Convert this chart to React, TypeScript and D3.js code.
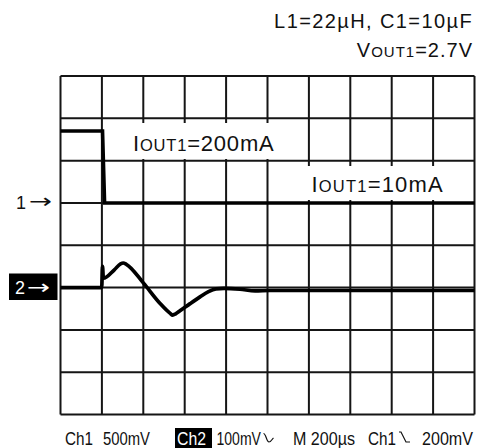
import React from "react";
import * as d3 from "d3";

// Scope settings
const TIME_PER_DIV_US = 200;
const H_DIVS = 10;
const V_DIVS = 8;
const CH1_MV_PER_DIV = 500;
const CH2_MV_PER_DIV = 100;
const CH1_GROUND_DIV = 5;
const CH2_GROUND_DIV = 3;

// Ch1: load current step (mV on the current-sense channel)
const ch1TimeUs = [0, 203, 213, 2000];
const ch1Mv = [850, 850, 0, 0];

// Ch2: output voltage transient (AC coupled, mV)
const ch2TimeUs = [0, 199, 203, 207, 260, 290, 303, 318, 400, 480, 530, 542, 556, 577, 626, 674, 713, 751, 790, 867, 940, 1012, 2000];
const ch2Mv = [0, 0, 50, 22, 42, 56, 58, 55, 11, -37, -61, -65, -62, -55, -38, -22, -10, -3, -2, -4, -8, -7, -7];

// Footer readout
const footerItems = [
  { text: "Ch1", x0: 65, x1: 93 },
  { text: "500mV", x0: 103, x1: 150 },
  { text: "100mV", x0: 216.5, x1: 261 },
  { text: "M 200µs", x0: 293, x1: 355 },
  { text: "Ch1", x0: 368, x1: 396 },
  { text: "200mV", x0: 422, x1: 473 },
];

const FONT = "'Liberation Sans', Arial, Helvetica, sans-serif";
const ARROW_FONT = "'DejaVu Sans', sans-serif";

export default function App() {
  const left = 60.5;
  const right = 474.5;
  const top = 76;
  const bottom = 414.5;

  const x = d3.scaleLinear().domain([0, H_DIVS * TIME_PER_DIV_US]).range([left, right]);
  const yDiv = d3.scaleLinear().domain([0, V_DIVS]).range([bottom, top]);
  const y1 = (mv: number) => yDiv(CH1_GROUND_DIV + mv / CH1_MV_PER_DIV);
  const y2 = (mv: number) => yDiv(CH2_GROUND_DIV + mv / CH2_MV_PER_DIV);

  const xTicks = d3.range(0, H_DIVS + 1).map((d) => d * TIME_PER_DIV_US);
  const yTicks = d3.range(0, V_DIVS + 1);

  const ch1Path = d3
    .line<number>()
    .x((_, i) => x(ch1TimeUs[i]))
    .y((_, i) => y1(ch1Mv[i]))(ch1Mv);

  const ch2Path = d3
    .line<number>()
    .x((_, i) => x(ch2TimeUs[i]))
    .y((_, i) => y2(ch2Mv[i]))
    .curve(d3.curveMonotoneX)(ch2Mv);

  const gridColor = "#151515";
  const footY = 444.5;

  return (
    <svg
      width={484}
      height={448}
      viewBox="0 0 484 448"
      style={{ position: "absolute", left: 0, top: 0, display: "block", background: "#fff" }}
      fontFamily={FONT}
    >
      <rect x={0} y={0} width={484} height={448} fill="#fff" />

      {/* header */}
      <text x={473} y={28} textAnchor="end" fontSize={20} letterSpacing={1.4} fill="#111">
        L1=22µH, C1=10µF
      </text>
      <text x={473} y={57} textAnchor="end" fontSize={20} letterSpacing={1} fill="#111">
        V<tspan fontSize={15}>OUT1</tspan>=2.7V
      </text>

      {/* graticule */}
      <g stroke={gridColor} strokeWidth={2} fill="none">
        {xTicks.map((t) => (
          <line key={`v${t}`} x1={x(t)} x2={x(t)} y1={top} y2={bottom} />
        ))}
        {yTicks.map((d) => (
          <line key={`h${d}`} x1={left} x2={right} y1={yDiv(d)} y2={yDiv(d)} />
        ))}
      </g>

      {/* label backgrounds */}
      <rect x={127} y={123} width={154} height={36} fill="#fff" />
      <rect x={304} y={166} width={146} height={34} fill="#fff" />

      {/* traces */}
      <path d={ch1Path ?? ""} fill="none" stroke="#000" strokeWidth={3.6} strokeLinejoin="miter" />
      <path d={ch2Path ?? ""} fill="none" stroke="#000" strokeWidth={3.7} strokeLinejoin="round" />

      {/* annotations */}
      <text x={133} y={151} fontSize={22} letterSpacing={0.8} fill="#111">
        I<tspan fontSize={16.5}>OUT1</tspan>=200mA
      </text>
      <text x={311.5} y={191.5} fontSize={22} letterSpacing={1.2} fill="#111">
        I<tspan fontSize={16.5}>OUT1</tspan>=10mA
      </text>

      {/* channel ground markers */}
      <text x={16} y={208.5} fontSize={18} fill="#111">1</text>
      <text x={29} y={208} fontSize={20} fill="#111" fontFamily={ARROW_FONT} textLength={23} lengthAdjust="spacingAndGlyphs">→</text>
      <rect x={9} y={273.5} width={48.5} height={26.5} fill="#000" />
      <text x={15} y={294} fontSize={18} fill="#fff">2</text>
      <text x={27} y={293.5} fontSize={20} fill="#fff" fontFamily={ARROW_FONT} textLength={23} lengthAdjust="spacingAndGlyphs">→</text>

      {/* footer readout */}
      <rect x={175} y={428} width={37} height={20} fill="#000" />
      <text x={177} y={footY} fontSize={18} fill="#fff" textLength={29} lengthAdjust="spacingAndGlyphs">
        Ch2
      </text>
      {footerItems.map((f, i) => (
        <text
          key={i}
          x={f.x0}
          y={footY}
          fontSize={18}
          fill="#111"
          textLength={f.x1 - f.x0}
          lengthAdjust="spacingAndGlyphs"
        >
          {f.text}
        </text>
      ))}
      {/* AC coupling glyph */}
      <path
        d="M263.5,433.5 C266,433.5 266.5,442 269,442 C271,442 272,439 273.5,438"
        fill="none"
        stroke="#111"
        strokeWidth={1.2}
      />
      {/* falling-edge trigger glyph */}
      <path d="M399,432 l2,0 l5,10 l4,0" fill="none" stroke="#111" strokeWidth={1.2} />
    </svg>
  );
}
